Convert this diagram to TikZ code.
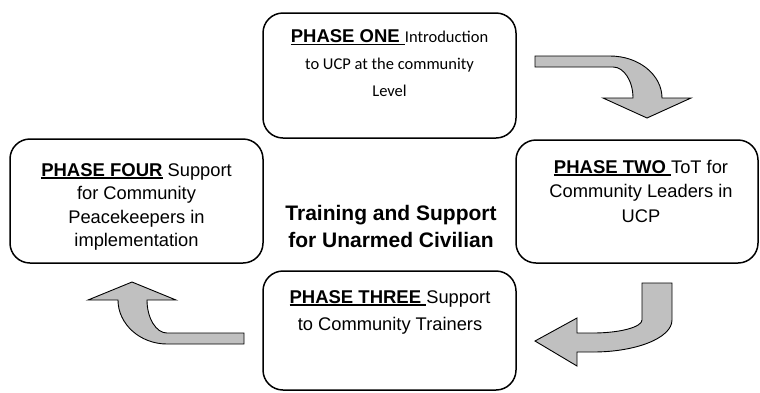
\documentclass[tikz,border=0pt]{standalone}
\usepackage{fontspec}
\setmainfont{Liberation Sans}
\newfontfamily\calfont{Carlito}
\definecolor{arrowgray}{RGB}{192,192,192}
\newsavebox\phbox
\newcommand\phasettl[1]{\sbox\phbox{\normalfont\fontsize{18.5}{24}\selectfont\bfseries #1}\rlap{\rule[-2.6pt]{\wd\phbox}{1.6pt}}\usebox\phbox}
\begin{document}
\begin{tikzpicture}[x=1pt,y=-1pt,
  phasebox/.style={draw=black, line width=1.5pt, rounded corners=20pt, rectangle, inner sep=0pt},
  phasetext/.style={anchor=north, align=center, inner sep=0pt, text=black},
  turnarrow/.style={draw=black, line width=0.9pt, fill=arrowgray, line join=miter}]
\useasboundingbox (0,0) rectangle (760,392);

% boxes
\node[phasebox, minimum width=253pt, minimum height=125pt] (one) at (389.5,75.5) {};
\node[phasebox, minimum width=242pt, minimum height=123pt] (two) at (637,201.5) {};
\node[phasebox, minimum width=253pt, minimum height=124pt] (four) at (136.5,201) {};
\node[phasebox, minimum width=253pt, minimum height=119pt] (three) at (389.5,330.5) {};

% texts
\node[phasetext, font={\calfont\fontsize{16.5}{27}\selectfont}] (onetxt) at (389.5,29.7)
  {\phasettl{PHASE ONE\ }Introduction\\to UCP at the community\\Level};
\node[phasetext, font={\fontsize{18.3}{24.5}\selectfont}] (twotxt) at (641,159.7)
  {\phasettl{PHASE TWO\ }ToT for\\Community Leaders in\\UCP};
\node[phasetext, font={\fontsize{18.3}{23.5}\selectfont}] (fourtxt) at (136.5,163)
  {\phasettl{PHASE FOUR} Support\\for Community\\Peacekeepers in\\implementation};
\node[phasetext, font={\fontsize{18.3}{27}\selectfont}] (threetxt) at (390,290)
  {\phasettl{PHASE THREE\ }Support\\to Community Trainers};
\node[phasetext, font={\fontsize{21}{27}\selectfont\bfseries}] (centre) at (391,204.8)
  {Training and Support\\for Unarmed Civilian};

% arrow one -> two
\draw[turnarrow] (535,56) -- (610,56) .. controls (639,56) and (662,75) .. (662,98)
  -- (691,98) -- (647,118) -- (603,98) -- (633,98)
  .. controls (633,81) and (624,67) .. (613,67) -- (535,67) -- cycle;

% arrow two -> three
\draw[turnarrow] (642,283) -- (672,283) -- (672,320)
  .. controls (672,338) and (636,352) .. (593,352)
  -- (577,352) -- (577,366) -- (535,341) -- (577,318) -- (577,333) -- (593,333)
  .. controls (620,333) and (642,327) .. (642,320) -- cycle;

% arrow three -> four
\draw[turnarrow] (244,333) -- (167,333) .. controls (156,333) and (147,318) .. (147,300)
  -- (176,300) -- (132,282) -- (88,300) -- (118,300)
  .. controls (118,324) and (140,344) .. (167,344) -- (244,344) -- cycle;
\end{tikzpicture}
\end{document}
